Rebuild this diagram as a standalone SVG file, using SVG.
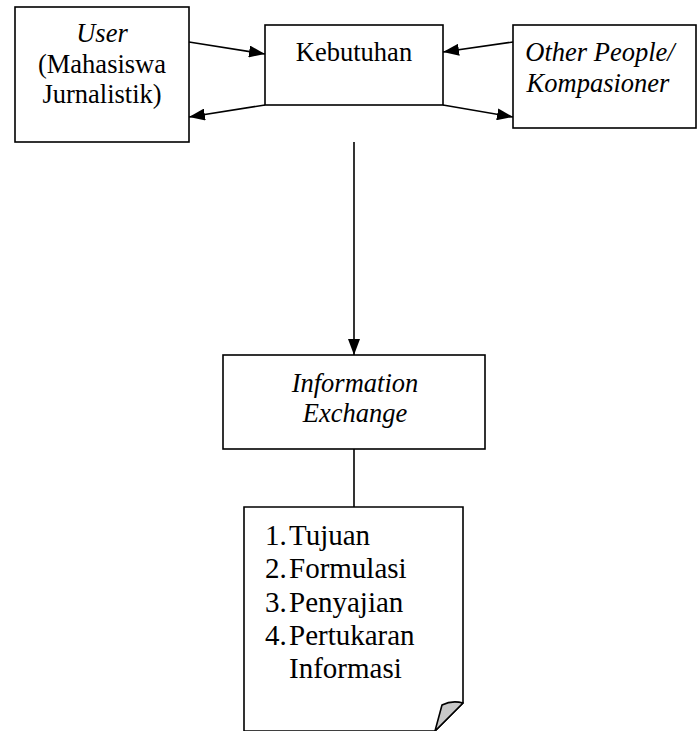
<svg xmlns="http://www.w3.org/2000/svg" width="700" height="731" viewBox="0 0 700 731">
<style>
.box{fill:#fff;stroke:#000;stroke-width:1.6}
.t{font-family:'Liberation Serif','Times New Roman',serif;font-size:26.5px;fill:#000}
.i{font-style:italic}
.l{font-family:'Liberation Serif','Times New Roman',serif;font-size:29px;fill:#000}
.c{stroke:#000;stroke-width:1.6;fill:none}
</style>
<defs>
<marker id="ah" viewBox="0 0 16 12" refX="16" refY="6" markerWidth="16" markerHeight="12" markerUnits="userSpaceOnUse" orient="auto">
<path d="M0,0 L16,6 L0,12 Z" fill="#000"/>
</marker>
</defs>
<rect width="700" height="731" fill="#fff"/>
<g id="user">
<rect class="box" x="15" y="7" width="174" height="135"/>
<text class="t i" x="102" y="42" text-anchor="middle">User</text>
<text class="t" x="102" y="73" text-anchor="middle">(Mahasiswa</text>
<text class="t" x="102" y="103" text-anchor="middle">Jurnalistik)</text>
</g>
<g id="kebutuhan">
<rect class="box" x="265" y="25" width="178" height="80"/>
<text class="t" x="354" y="61" text-anchor="middle">Kebutuhan</text>
</g>
<g id="other">
<rect class="box" x="513" y="25" width="183" height="103"/>
<text class="t i" x="600" y="61" text-anchor="middle">Other People/</text>
<text class="t i" x="598" y="92" text-anchor="middle">Kompasioner</text>
</g>
<g id="info">
<rect class="box" x="223" y="355" width="262" height="94"/>
<text class="t i" x="355" y="392" text-anchor="middle">Information</text>
<text class="t i" x="355" y="422" text-anchor="middle">Exchange</text>
</g>
<g id="document">
<path class="box" d="M244,507 H463 V703 L435,731 H244 Z"/>
<path d="M442,705 Q452,700 463,703 L435,731 Z" fill="#c8c8c8" stroke="#000" stroke-width="1.6" stroke-linejoin="round"/>
<text class="l" x="265" y="545">1.</text><text class="l" x="289" y="545">Tujuan</text>
<text class="l" x="265" y="578">2.</text><text class="l" x="289" y="578">Formulasi</text>
<text class="l" x="265" y="612">3.</text><text class="l" x="289" y="612">Penyajian</text>
<text class="l" x="265" y="645">4.</text><text class="l" x="289" y="645">Pertukaran</text>
<text class="l" x="289" y="678">Informasi</text>
</g>
<g id="connectors">
<line class="c" x1="189" y1="42" x2="265" y2="54" marker-end="url(#ah)"/>
<line class="c" x1="265" y1="105" x2="189" y2="117" marker-end="url(#ah)"/>
<line class="c" x1="513" y1="42" x2="443" y2="52" marker-end="url(#ah)"/>
<line class="c" x1="443" y1="105" x2="513" y2="117" marker-end="url(#ah)"/>
<line class="c" x1="354" y1="142" x2="354" y2="355" marker-end="url(#ah)"/>
<line class="c" x1="354" y1="449" x2="354" y2="507"/>
</g>
</svg>
